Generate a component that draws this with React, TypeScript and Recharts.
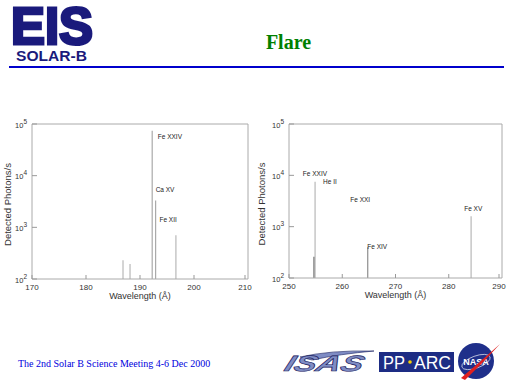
import React from 'react'
import { ComposedChart, Bar, Line, Cell, XAxis, YAxis, ReferenceDot } from 'recharts'

// short-wavelength band (170-210 A)
const shortWavelengths = [186.9, 188.2, 192.3, 192.95, 196.7]
const shortCounts = [230, 195, 74000, 3300, 700]
const shortColors = ['#aaaaaa', '#aaaaaa', '#999999', '#999999', '#aaaaaa']
const shortIons = ['Fe XXIV', 'Ca XV', 'Fe XII']
const shortIonX = [193.3, 192.9, 193.6]
const shortIonY = [55000, 5200, 1400]
const shortTicks = [170, 180, 190, 200, 210]
const shortMinor = [172, 174, 176, 178, 182, 184, 186, 188, 192, 194, 196, 198, 202, 204, 206, 208]

// long-wavelength band (250-290 A)
const longWavelengths = [254.7, 254.9, 264.8, 284.2]
const longCounts = [260, 7500, 395, 1600]
const longColors = ['#444444', '#aaaaaa', '#777777', '#aaaaaa']
const longIons = ['Fe XXIV', 'He II', 'Fe XXI', 'Fe XIV', 'Fe XV']
const longIonX = [252.6, 256.4, 261.5, 264.7, 282.9]
const longIonY = [10500, 7200, 3200, 405, 2150]
const longTicks = [250, 260, 270, 280, 290]
const longMinor = [252, 254, 256, 258, 262, 264, 266, 268, 272, 274, 276, 278, 282, 284, 286, 288]

const decades = [100, 1000, 10000, 100000]
const minorCounts = [
  200, 300, 400, 500, 600, 700, 800, 900,
  2000, 3000, 4000, 5000, 6000, 7000, 8000, 9000,
  20000, 30000, 40000, 50000, 60000, 70000, 80000, 90000,
]

const sans = 'Liberation Sans, Arial, sans-serif'

function PowerTick(props: any) {
  const { x, y, payload } = props
  const exp = Math.round(Math.log10(payload.value))
  return (
    <g>
      <line x1={x + 3} x2={x + 8} y1={y} y2={y} stroke="#999" />
      <text x={x - 2} y={y + 3.5} textAnchor="end" fontSize={7.5} fill="#333" fontFamily={sans}>
        10<tspan dy={-4} fontSize={6.5}>{exp}</tspan>
      </text>
    </g>
  )
}

function WaveTick(props: any) {
  const { x, y, payload } = props
  return (
    <g>
      <line x1={x} x2={x} y1={y} y2={y - 4} stroke="#999" />
      <text x={x} y={y + 10.5} textAnchor="middle" fontSize={8} fill="#333" fontFamily={sans}>
        {payload.value}
      </text>
    </g>
  )
}

function Spectrum(props: {
  left: number
  width: number
  height: number
  yWidth: number
  domain: number[]
  wavelengths: number[]
  counts: number[]
  colors: string[]
  ions: string[]
  ionX: number[]
  ionY: number[]
  ticks: number[]
  minor: number[]
}) {
  const rows = props.wavelengths.map((w, i) => ({ w, c: props.counts[i] }))
  return (
    <div style={{ position: 'absolute', left: props.left, top: 115 }}>
      <ComposedChart
        width={props.width}
        height={props.height}
        data={rows}
        margin={{ top: 9, right: 9, left: 0, bottom: 0 }}
      >
        <XAxis
          dataKey="w"
          type="number"
          domain={props.domain}
          allowDataOverflow
          ticks={props.ticks}
          tick={<WaveTick />}
          tickLine={false}
          tickSize={0}
          tickMargin={0}
          height={26}
          axisLine={{ stroke: '#aaa' }}
          label={{
            content: (p: any) => (
              <text
                x={p.viewBox.x + p.viewBox.width / 2}
                y={p.viewBox.y + 20}
                textAnchor="middle"
                fontSize={9}
                fill="#333"
                fontFamily={sans}
              >
                Wavelength (Å)
              </text>
            ),
          }}
        />
        <XAxis
          xAxisId="t"
          dataKey="w"
          orientation="top"
          type="number"
          domain={props.domain}
          allowDataOverflow
          ticks={props.minor}
          height={1}
          mirror
          tick={false}
          tickSize={3}
          tickLine={{ stroke: '#aaa' }}
          axisLine={{ stroke: '#aaa' }}
        />
        <YAxis
          scale="log"
          type="number"
          domain={[100, 100000]}
          allowDataOverflow
          ticks={decades}
          tick={<PowerTick />}
          tickLine={false}
          tickSize={0}
          tickMargin={3}
          width={props.yWidth}
          axisLine={{ stroke: '#aaa' }}
          label={{
            content: (p: any) => (
              <text
                x={8}
                y={p.viewBox.y + p.viewBox.height / 2 + 3}
                transform={`rotate(-90 8 ${p.viewBox.y + p.viewBox.height / 2 + 3})`}
                textAnchor="middle"
                dominantBaseline="middle"
                fontSize={9.5}
                fill="#333"
                fontFamily={sans}
              >
                Detected Photons/s
              </text>
            ),
          }}
        />
        <YAxis
          yAxisId="r"
          orientation="right"
          scale="log"
          type="number"
          domain={[100, 100000]}
          allowDataOverflow
          ticks={minorCounts}
          width={1}
          mirror
          tick={false}
          tickSize={3}
          tickLine={{ stroke: '#999' }}
          axisLine={{ stroke: '#aaa' }}
        />
        <Bar dataKey="c" barSize={1} isAnimationActive={false}>
          {rows.map((r, i) => (
            <Cell key={i} fill={props.colors[i]} />
          ))}
        </Bar>
        <Line
          xAxisId="t"
          yAxisId="r"
          dataKey="c"
          stroke="none"
          dot={false}
          activeDot={false}
          isAnimationActive={false}
        />
        {props.ions.map((name, i) => (
          <ReferenceDot
            key={name + i}
            x={props.ionX[i]}
            y={props.ionY[i]}
            r={0}
            shape={(p: any) => (
              <text x={p.cx} y={p.cy} dominantBaseline="middle" fontSize={6.5} fill="#222" fontFamily={sans}>
                {name}
              </text>
            )}
          />
        ))}
      </ComposedChart>
    </div>
  )
}

export default function App() {
  const navy = '#1a1a7c'
  return (
    <div style={{ position: 'absolute', left: 0, top: 0, width: 512, height: 384, background: '#fff', overflow: 'hidden' }}>
      <svg width={512} height={384} style={{ position: 'absolute', left: 0, top: 0 }}>
        <text
          x={11}
          y={44}
          fontSize={52}
          fontWeight="bold"
          fontFamily={sans}
          fill={navy}
          stroke={navy}
          strokeWidth={3}
          strokeLinejoin="miter"
          textLength={82}
          lengthAdjust="spacingAndGlyphs"
        >
          EIS
        </text>
        <text x={16} y={61} fontSize={14} fontWeight="bold" fontFamily={sans} fill={navy} textLength={71} lengthAdjust="spacingAndGlyphs">
          SOLAR-B
        </text>
        <text x={288.5} y={49} textAnchor="middle" fontSize={20} fontWeight="bold" fontFamily="Liberation Serif, serif" fill="#008000">
          Flare
        </text>
        <rect x={9} y={66} width={495} height={2} fill="#0000cc" />

        <text x={18} y={367} fontSize={10} fontFamily="Liberation Serif, serif" fill="#0000dd">
          The 2nd Solar B Science Meeting 4-6 Dec 2000
        </text>

        {/* ISAS logo */}
        <path d="M300 357 Q330 350 374 351 Q340 354 312 360 Z" fill="#7f8cc4" stroke="#1a2060" strokeWidth={0.6} />
        <text
          x={288}
          y={371}
          fontSize={22}
          fontWeight="bold"
          fontStyle="italic"
          fontFamily={sans}
          fill="#7f8cc4"
          stroke="#1a2060"
          strokeWidth={0.6}
          textLength={78}
          lengthAdjust="spacingAndGlyphs"
          transform="skewX(-20) translate(130 0)"
        >
          ISAS
        </text>

        {/* PPARC logo */}
        <rect x={379} y={352} width={75} height={20} fill="#1d2c84" />
        <text x={383} y={369} fontSize={18} fontFamily={sans} fill="#fff" textLength={22} lengthAdjust="spacingAndGlyphs">
          PP
        </text>
        <circle cx={410} cy={362} r={1.8} fill="#f5d000" />
        <text x={414} y={369} fontSize={18} fontFamily={sans} fill="#fff" textLength={37} lengthAdjust="spacingAndGlyphs">
          ARC
        </text>

        {/* NASA logo */}
        <circle cx={476} cy={361} r={18} fill="#1f2f8a" />
        <ellipse cx={476} cy={362} rx={15} ry={6} fill="none" stroke="#fff" strokeWidth={0.6} transform="rotate(-20 476 362)" />
        <text x={476} y={365} textAnchor="middle" fontSize={9} fontWeight="bold" fontFamily={sans} fill="#fff">
          NASA
        </text>
        <path d="M461 378 Q480 362 500 344 Q484 362 465 380 Z" fill="#e02020" />
      </svg>

      <Spectrum
        left={0}
        width={257}
        height={190}
        yWidth={32}
        domain={[170, 210]}
        wavelengths={shortWavelengths}
        counts={shortCounts}
        colors={shortColors}
        ions={shortIons}
        ionX={shortIonX}
        ionY={shortIonY}
        ticks={shortTicks}
        minor={shortMinor}
      />
      <Spectrum
        left={254}
        width={257}
        height={189}
        yWidth={35}
        domain={[250, 290]}
        wavelengths={longWavelengths}
        counts={longCounts}
        colors={longColors}
        ions={longIons}
        ionX={longIonX}
        ionY={longIonY}
        ticks={longTicks}
        minor={longMinor}
      />
    </div>
  )
}
